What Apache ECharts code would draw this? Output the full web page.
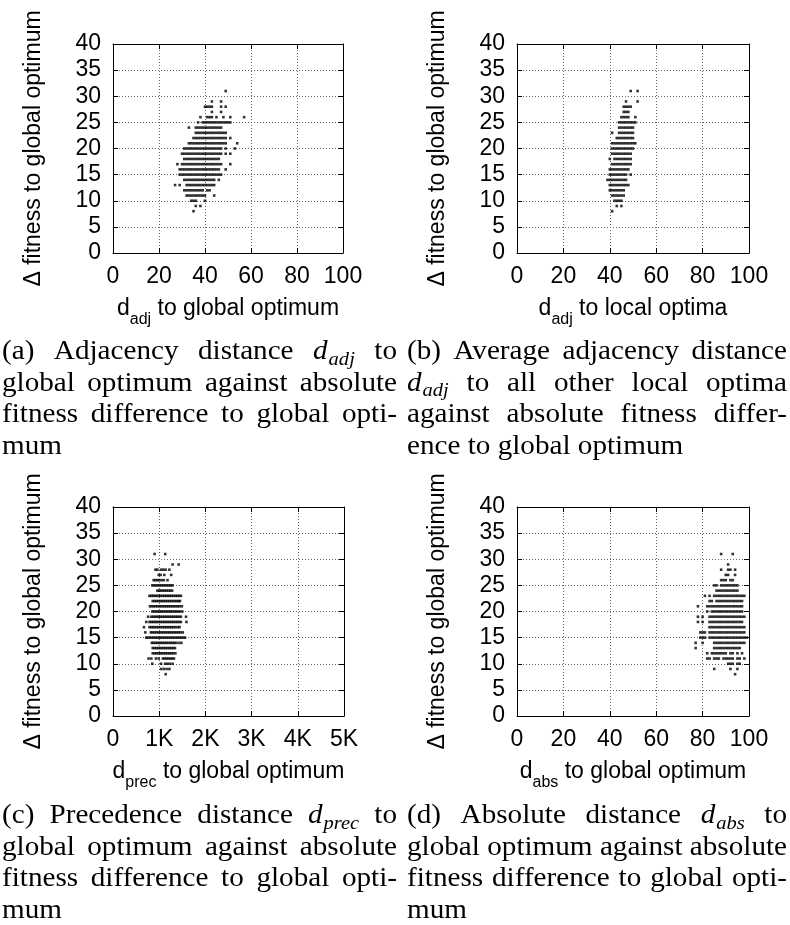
<!DOCTYPE html>
<html><head><meta charset="utf-8">
<script src="https://cdn.jsdelivr.net/npm/echarts@6/dist/echarts.min.js"></script>
<style>html,body{margin:0;padding:0;background:#fff}#c{width:790px;height:925px}</style>
</head><body><div id="c"></div>
<script>
// ---- data: rows of [fitness difference, [distances ...]] ----
const rowsAdjGlobal = [
 [31,[49]],
 [29,[43,47]],
 [28,[40,41,42,43,47,49]],
 [27,[43,47]],
 [26,[38,41,42,43,45,48,51,57]],
 [25,[37,39,40,41,42,43,44,45,46,47,48,49,50,51]],
 [24,[33,36,37,38,39,40,41,42,43,44,45,46,47]],
 [23,[36,37,38,39,40,41,42,43,44,45,46,47,48,49]],
 [22,[35,36,37,38,39,40,41,42,43,44,45,46,47,48,49,51]],
 [21,[33,34,35,36,37,38,39,40,41,42,43,44,45,46,47,48,49,54]],
 [20,[31,32,33,34,35,36,37,38,39,40,41,42,43,44,45,46,47,49,53]],
 [19,[30,31,32,33,34,35,36,37,38,39,40,41,42,43,44,45,46,47,49,51]],
 [18,[31,32,33,34,35,36,37,38,39,40,41,42,43,44,45,46]],
 [17,[28,30,31,32,33,34,35,36,37,38,39,40,41,42,43,44,45,46,47,51]],
 [16,[29,30,31,32,33,34,35,36,37,38,39,40,41,42,43,44,45,46,49]],
 [15,[29,30,31,32,33,34,35,36,37,38,39,40,41,42,43,44,45,46,47]],
 [14,[31,32,33,34,35,36,37,38,39,40,41,42,43,44,46]],
 [13,[27,29,32,33,34,35,36,37,38,39,40,41,42,43,44]],
 [12,[31,32,33,34,35,36,37,38,39,41,42]],
 [11,[32,33,34,35,36,37,38,39,40,44]],
 [10,[34,35,36,40]],
 [9,[36,38]],
 [8,[35]]
];
const rowsAdjLocal = [
 [31,[49,52]],
 [29,[47,52]],
 [28,[46,47,48,49]],
 [27,[46,47,48]],
 [26,[45,46,47,48,51]],
 [25,[44,45,46,47,48,49,50,51]],
 [24,[44,45,46,47,48,49,50]],
 [23,[41,44,45,46,47,48,49,50]],
 [22,[43,44,45,46,47,48,49,50]],
 [21,[41,42,43,44,45,46,47,48,49,50,51]],
 [20,[41,42,43,44,45,46,47,48,49,50]],
 [19,[41,42,43,44,45,46,47,48,49]],
 [18,[40,42,43,44,45,46,47,48,49]],
 [17,[41,42,43,44,45,46,47,48,49]],
 [16,[40,41,42,43,44,45,46,47,48]],
 [15,[40,41,42,43,44,45,46,47,49]],
 [14,[39,40,41,42,43,44,45,46,47]],
 [13,[40,41,42,43,44,45,46,47,48]],
 [12,[40,41,42,43,44,45,46]],
 [11,[41,42,43,44,45,46]],
 [10,[42,43,44,45]],
 [9,[43,45]],
 [8,[41]]
];
const rowsPrecGlobal = [
 [31,[900,1130]],
 [29,[1290,1420]],
 [28,[920,960,1040,1090,1140,1220]],
 [27,[990,1030,1110,1260]],
 [26,[880,920,960,1000,1050,1100,1180]],
 [25,[850,890,930,970,1010,1050,1090,1130,1170,1210,1250,1290]],
 [24,[960,1000,1040,1080,1120,1160,1200,1240,1280]],
 [23,[790,830,870,910,950,990,1030,1070,1110,1150,1190,1230,1270,1310,1350,1390,1430,1470]],
 [22,[860,900,940,980,1020,1060,1100,1140,1180,1220,1260,1300,1340,1380,1420,1450]],
 [21,[800,840,880,920,960,1000,1040,1080,1120,1160,1200,1240,1280,1320,1360,1400,1440,1490]],
 [20,[850,890,930,970,1010,1050,1090,1130,1170,1210,1250,1290,1330,1370,1410,1450,1500]],
 [19,[760,830,870,910,950,990,1030,1070,1110,1150,1190,1230,1270,1310,1350,1390,1430,1470,1580]],
 [18,[720,790,830,870,910,950,990,1030,1070,1110,1150,1190,1230,1270,1310,1350,1390,1430,1470,1590]],
 [17,[670,790,830,870,910,950,990,1030,1070,1110,1150,1190,1230,1270,1310,1350,1400,1440]],
 [16,[700,820,860,900,940,980,1020,1060,1100,1140,1180,1220,1260,1300,1340,1380,1420,1460,1510]],
 [15,[720,760,800,840,880,920,960,1000,1040,1080,1120,1160,1200,1240,1280,1320,1360,1400,1440,1480,1520,1560]],
 [14,[840,880,920,960,1000,1040,1080,1120,1160,1200,1240,1280,1320,1360,1420,1480]],
 [13,[860,900,940,980,1020,1060,1100,1140,1180,1220,1260,1300,1340]],
 [12,[860,900,940,980,1020,1060,1100,1140,1180,1220,1260,1300,1350]],
 [11,[770,830,930,990,1080,1120,1160,1200,1240,1280,1320]],
 [10,[850,1040,1130,1180,1230,1290]],
 [9,[1040,1100,1160,1220]],
 [8,[1140]]
];
const rowsAbsGlobal = [
 [31,[88,93]],
 [29,[91]],
 [28,[88,91,92,94]],
 [27,[90,91,94]],
 [26,[88,89,90,92,93]],
 [25,[85,86,88,89,90,91,92,93,94,95]],
 [24,[86,87,88,89,90,91,92,93,94,95]],
 [23,[81,83,85,86,87,88,89,90,91,92,93,94,95,96,97,98]],
 [22,[83,84,86,87,88,89,90,91,92,93,94,95,96,97]],
 [21,[78,82,83,84,85,86,87,88,89,90,91,92,93,94,95,96,97]],
 [20,[82,84,85,86,87,88,89,90,91,92,93,94,95,96,97]],
 [19,[78,80,83,84,85,86,87,88,89,90,91,92,93,94,95,96,97,98]],
 [18,[78,80,83,84,85,86,87,88,89,90,91,92,93,94,95,96,97]],
 [17,[83,84,85,86,87,88,89,90,91,92,93,94,95,96,97,98]],
 [16,[79,80,81,83,84,85,86,87,88,89,90,91,92,93,94,95,96,97,98]],
 [15,[79,80,81,83,84,85,86,87,88,89,90,91,92,93,94,95,96,97,98,99]],
 [14,[77,80,85,86,87,88,89,90,91,92,93,94,95,96,97,98]],
 [13,[77,85,86,87,88,89,90,91,92,93,94,95,96]],
 [12,[82,84,85,86,87,88,89,90,92,93,95,97]],
 [11,[82,83,85,86,87,89,90,91,92,93,95,96,98]],
 [10,[91,92,93,95,96]],
 [9,[85,92,95]],
 [8,[94]]
];
const precTickLabels = ['0','1K','2K','3K','4K','5K'];
const yAxisTitle = 'Δ fitness to global optimum';
const xAxisTitles = [
 ['d','adj',' to global optimum'],
 ['d','adj',' to local optima'],
 ['d','prec',' to global optimum'],
 ['d','abs',' to global optimum']
];
const captionA = ['(a) Adjacency distance $d_adj$ to','global optimum against absolute','fitness difference to global opti-','mum'];
const captionB = ['(b) Average adjacency distance','$d_adj$ to all other local optima','against absolute fitness differ-','ence to global optimum'];
const captionC = ['(c) Precedence distance $d_prec$ to','global optimum against absolute','fitness difference to global opti-','mum'];
const captionD = ['(d) Absolute distance $d_abs$ to','global optimum against absolute','fitness difference to global opti-','mum'];

// ---- layout ----
const SANS = '"Liberation Sans", Arial, sans-serif';
const SERIF = '"Liberation Serif", serif';
const FS = 23;
const panels = [
 {left:113, top:44, width:230, height:209, xmax:100, xint:20, rows:rowsAdjGlobal},
 {left:517, top:44, width:232, height:209, xmax:100, xint:20, rows:rowsAdjLocal},
 {left:113, top:507, width:231, height:209, xmax:5000, xint:1000, rows:rowsPrecGlobal, fmt:v=>precTickLabels[Math.round(v/1000)]},
 {left:517, top:507, width:232, height:209, xmax:100, xint:20, rows:rowsAbsGlobal}
];
function toPoints(rows){const o=[];rows.forEach(r=>r[1].forEach(x=>o.push([x,r[0]])));return o;}

const grids=[], xAxes=[], yAxes=[], series=[];
panels.forEach((p,i)=>{
  grids.push({left:p.left, top:p.top, width:p.width, height:p.height, show:false, containLabel:false, outerBoundsMode:'none'});
  const lineStyle={color:'#000',width:1};
  const split={show:true, showMinLine:false, showMaxLine:false, lineStyle:{color:'#666',width:1,type:[1,2]}};
  const t = xAxisTitles[i];
  xAxes.push({gridIndex:i, type:'value', position:'bottom', min:0, max:p.xmax, interval:p.xint,
    axisLine:{show:true,onZero:false,lineStyle}, axisTick:{show:true,inside:true,length:5,lineStyle},
    axisLabel:{show:true, margin:12, color:'#000', fontSize:FS, fontFamily:SANS, formatter:p.fmt||(v=>String(v)), showMinLabel:true, showMaxLabel:true},
    splitLine:split,
    name:'{n|'+t[0]+'}{s|'+t[1]+'}{n|'+t[2]+'}', nameLocation:'middle', nameGap:44, nameMoveOverlap:false,
    nameTextStyle:{color:'#000', fontFamily:SANS, fontSize:FS,
      rich:{n:{fontSize:FS,fontFamily:SANS,color:'#000',verticalAlign:'top',lineHeight:26},
            s:{fontSize:16,fontFamily:SANS,color:'#000',verticalAlign:'bottom',lineHeight:31}}}
  });
  xAxes.push({gridIndex:i, type:'value', position:'top', min:0, max:p.xmax, interval:p.xint,
    axisLine:{show:true,onZero:false,lineStyle}, axisTick:{show:true,inside:true,length:5,lineStyle},
    axisLabel:{show:false}, splitLine:{show:false}});
  yAxes.push({gridIndex:i, type:'value', position:'left', min:0, max:40, interval:5,
    axisLine:{show:true,onZero:false,lineStyle}, axisTick:{show:true,inside:true,length:5,lineStyle},
    axisLabel:{show:true, margin:12, color:'#000', fontSize:FS, fontFamily:SANS},
    splitLine:split,
    name:yAxisTitle, nameLocation:'middle', nameGap:68, nameMoveOverlap:false,
    nameTextStyle:{color:'#000', fontFamily:SANS, fontSize:FS}
  });
  yAxes.push({gridIndex:i, type:'value', position:'right', min:0, max:40, interval:5,
    axisLine:{show:true,onZero:false,lineStyle}, axisTick:{show:true,inside:true,length:5,lineStyle},
    axisLabel:{show:false}, splitLine:{show:false}});
  series.push({type:'scatter', xAxisIndex:2*i, yAxisIndex:2*i, data:toPoints(p.rows),
    symbol:'rect', symbolSize:2.6, itemStyle:{color:'#000'}, silent:true, animation:false});
});

// ---- captions (justified like the LaTeX source) ----
const CAP = 27, SUB = 19, SX = 1.08;
const ctx = document.createElement('canvas').getContext('2d');
function mw(s,f){ctx.font=f;return ctx.measureText(s).width*SX;}
const fN = CAP+'px '+SERIF, fI = 'italic '+CAP+'px '+SERIF, fS = 'italic '+SUB+'px '+SERIF;
function wordWidth(w){
  if(w[0]==='$'){const m=w.slice(1,-1).split('_');return mw(m[0],fI)+mw(m[1],fS)+1;}
  return mw(w,fN);
}
const graphics=[];
function txt(s,f,x,y){
  graphics.push({type:'text', x:x, y:y, scaleX:SX, scaleY:1, silent:true,
    style:{text:s, font:f, fill:'#000', textAlign:'left', align:'left', textVerticalAlign:'middle', verticalAlign:'middle'}});
}
function caption(lines,x0,x1,base0,lh){
  lines.forEach((ln,li)=>{
    const words = ln.split(' ');
    const widths = words.map(wordWidth);
    const tot = widths.reduce((a,b)=>a+b,0);
    const last = li===lines.length-1;
    const gap = (last||words.length<2) ? mw(' ',fN) : (x1-x0-tot)/(words.length-1);
    const base = base0 + li*lh;
    let x = x0;
    words.forEach((w,wi)=>{
      if(w[0]==='$'){
        const m=w.slice(1,-1).split('_');
        txt(m[0], fI, x, base-0.34*CAP);
        txt(m[1], fS, x+mw(m[0],fI)+1, base+5-0.34*SUB);
      } else {
        txt(w, fN, x, base-0.34*CAP);
      }
      x += widths[wi] + gap;
    });
  });
}
caption(captionA, 2, 397, 361, 31.7);
caption(captionB, 407, 787, 361, 31.7);
caption(captionC, 2, 397, 825, 31.7);
caption(captionD, 407, 787, 825, 31.7);

const chart = echarts.init(document.getElementById('c'), null, {renderer:'canvas', width:790, height:925});
chart.setOption({
  animation:false, backgroundColor:'#fff',
  grid:grids, xAxis:xAxes, yAxis:yAxes, series:series, graphic:graphics
});
</script></body></html>
